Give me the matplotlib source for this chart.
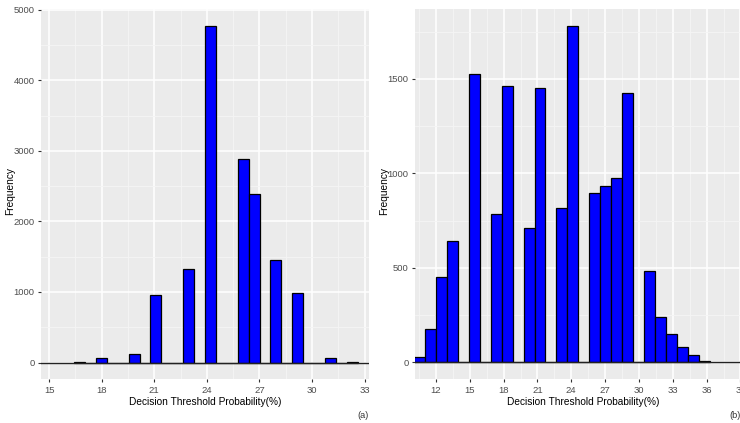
import numpy as np
import matplotlib
matplotlib.use("Agg")
import matplotlib.pyplot as plt
from matplotlib.ticker import MultipleLocator

plt.rcParams['font.family'] = ['Liberation Sans', 'DejaVu Sans']

# panel (a): histogram bins (left edge of first bin, bin width) and counts
a_start = 16.43
a_width = 0.622
a_counts = [10, 0, 57, 0, 0, 118, 0, 955, 0, 0, 1319, 0, 4770, 0, 0,
            2880, 2385, 0, 1460, 0, 983, 0, 0, 57, 0, 10]

# panel (b)
b_start = 10.05
b_width = 0.972
b_counts = [30, 175, 450, 640, 0, 1525, 0, 785, 1460, 0, 712, 1450, 0,
            815, 1780, 0, 899, 931, 977, 1423, 0, 483, 238, 150, 81, 42, 7]

a_xticks = [15, 18, 21, 24, 27, 30, 33]
b_xticks = [12, 15, 18, 21, 24, 27, 30, 33, 36, 39]

xlabel = "Decision Threshold Probability(%)"
ylabel = "Frequency"


def hist_panel(ax, start, width, counts, xlim, ylim, ymajor, xticks, ylab_x):
    counts = np.array(counts)
    lefts = start + width * np.arange(len(counts))
    ax.set_facecolor('#EBEBEB')
    ax.bar(lefts, counts, width=width, align='edge', color='#0000FF',
           edgecolor='black', linewidth=0.9, zorder=3)
    ax.axhline(0, color='#222222', linewidth=1.0, zorder=4)
    ax.set_xlim(*xlim)
    ax.set_ylim(*ylim)
    ax.set_xticks(xticks)
    ax.xaxis.set_minor_locator(MultipleLocator(1.5))
    ax.yaxis.set_major_locator(MultipleLocator(ymajor))
    ax.yaxis.set_minor_locator(MultipleLocator(ymajor / 2))
    ax.grid(which='major', color='white', linewidth=1.1, zorder=0)
    ax.grid(which='minor', color='#F5F5F5', linewidth=0.6, zorder=0)
    ax.set_axisbelow(True)
    for s in ax.spines.values():
        s.set_visible(False)
    ax.tick_params(which='major', length=2.5, width=0.8, color='#333333',
                   labelsize=6.8, labelcolor='#4D4D4D', pad=2)
    ax.tick_params(which='minor', length=0)
    ax.set_xlabel(xlabel, fontsize=7.3, labelpad=2)
    ax.set_ylabel(ylabel, fontsize=7.3, va='center')
    ax.yaxis.set_label_coords(ylab_x, 0.51)


fig = plt.figure(figsize=(7.4, 4.23), dpi=100)

ax1 = fig.add_axes([0.0554, 0.1033, 0.4428, 0.875])
hist_panel(ax1, a_start, a_width, a_counts, (14.54, 33.23), (-238, 5008),
           1000, a_xticks, -0.095)

ax2 = fig.add_axes([0.5608, 0.1033, 0.455, 0.875])
hist_panel(ax2, b_start, b_width, b_counts, (10.14, 40.0), (-89, 1869),
           500, b_xticks, -0.092)

fig.text(362.7 / 740, 1 - 415 / 423, "(a)", fontsize=6.6, color='#333333',
         ha='center', va='center')
fig.text(735 / 740, 1 - 415 / 423, "(b)", fontsize=6.6, color='#333333',
         ha='center', va='center')

fig.savefig("out.png", dpi=100)
